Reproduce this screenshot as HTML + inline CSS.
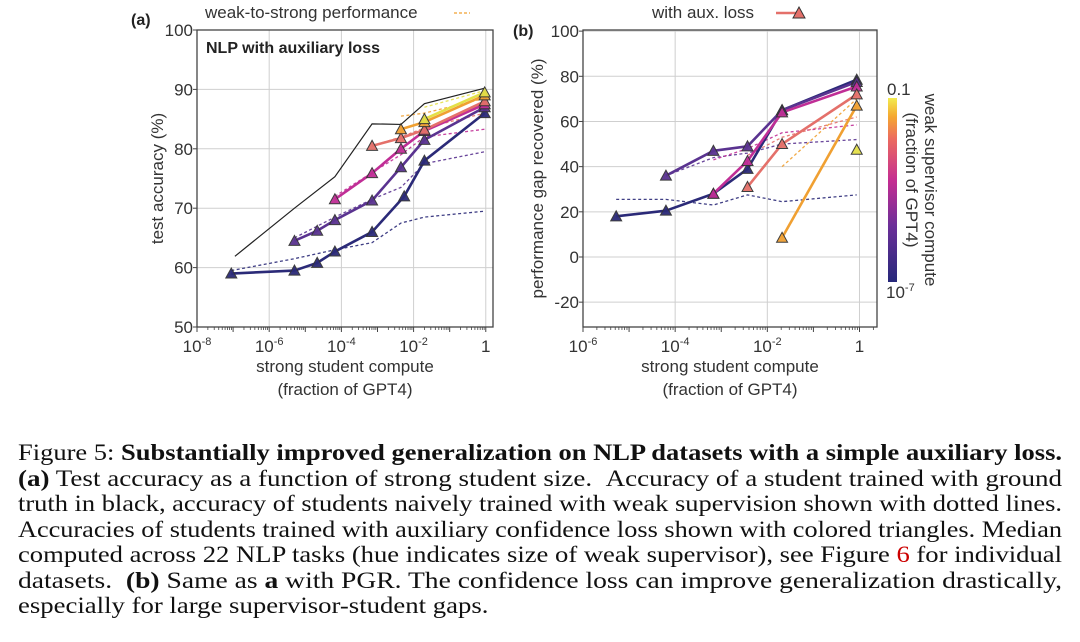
<!DOCTYPE html>
<html><head><meta charset="utf-8">
<style>
body{margin:0;background:#fff;width:1080px;height:642px;overflow:hidden;position:relative;font-family:"Liberation Sans",sans-serif}
.cap{position:absolute;left:18px;font-family:"Liberation Serif",serif;font-size:23px;color:#111;white-space:nowrap;line-height:25px;transform-origin:0 0}
</style></head><body>
<svg id="chart" width="1080" height="420" style="position:absolute;left:0;top:0" xmlns="http://www.w3.org/2000/svg"></svg>

<div class="cap" style="top:440px">Figure 5: <b>Substantially improved generalization on NLP datasets with a simple auxiliary loss.</b></div>
<div class="cap" style="top:465.5px"><b>(a)</b> Test accuracy as a function of strong student size. &nbsp;Accuracy of a student trained with ground</div>
<div class="cap" style="top:491px">truth in black, accuracy of students naively trained with weak supervision shown with dotted lines.</div>
<div class="cap" style="top:516.5px">Accuracies of students trained with auxiliary confidence loss shown with colored triangles. Median</div>
<div class="cap" style="top:542px">computed across 22 NLP tasks (hue indicates size of weak supervisor), see Figure <span style="color:#c00">6</span> for individual</div>
<div class="cap" style="top:567.5px">datasets. &nbsp;<b>(b)</b> Same as <b>a</b> with PGR. The confidence loss can improve generalization drastically,</div>
<div class="cap last" style="top:593px">especially for large supervisor-student gaps.</div>

<script>
// ---- data (log10 of compute fraction, values) ----
const seriesColors = ["#2b2a78","#5a3390","#c02e96","#e4706a","#f0a032","#e4e048"];
const seriesNames = ["sup-1e-7","sup-1e-6","sup-1e-5","sup-1e-4","sup-1e-3","sup-1e-1"];
// Panel A
const aAuxX = [[-7.05,-5.3,-4.67,-4.18,-3.15,-2.26,-1.7,-0.03],[-5.3,-4.67,-4.18,-3.15,-2.35,-1.7,-0.03],[-4.18,-3.15,-2.35,-1.7,-0.03],[-3.15,-2.35,-1.7,-0.03],[-2.35,-1.7,-0.03],[-1.7,-0.03]];
const aAuxY = [[59,59.5,60.8,62.7,66,72,78,86],[64.5,66.2,68,71.3,76.9,81.5,87],[71.5,75.9,80,83,87.5],[80.5,81.8,83.2,88],[83.3,84.5,89],[85,89.5]];
const aWeakX = [[-7.05,-5.3,-4.18,-3.15,-2.35,-1.7,-0.03],[-5.3,-4.18,-3.15,-2.35,-1.7,-0.03],[-4.18,-3.15,-2.35,-1.7,-0.03],[-3.15,-2.35,-1.7,-0.03],[-2.35,-1.7,-0.03],[-1.7,-0.03]];
const aWeakY = [[59.5,61.5,63,64.2,67.5,68.5,69.5],[65,68.5,71.5,73.5,77.5,79.5],[72,76,79,82,83.3],[80.5,82,83.5,86],[85.5,86,88.5],[87,89.8]];
const aGtX = [-6.95,-5.3,-4.18,-3.15,-2.35,-1.7,-0.03];
const aGtY = [61.9,70,75.3,84.2,84.1,87.6,90.2];
const aYTicks = [50,60,70,80,90,100];
const aXTicks = [-8,-6,-4,-2,0];
// Panel B
const bAuxX = [[-5.28,-4.2,-3.17,-2.43,-1.68,-0.06],[-4.2,-3.17,-2.43,-1.68,-0.06],[-3.17,-2.43,-1.68,-0.06],[-2.43,-1.68,-0.06],[-1.68,-0.06],[-0.06]];
const bAuxY = [[18,20.5,28,39,65,78.5],[36,47,49,65,77.5],[28,42.5,64,75.5],[31,50,72],[8.5,67],[47.5]];
const bWeakX = [[-5.28,-4.2,-3.17,-2.43,-1.68,-0.06],[-4.2,-3.17,-2.43,-1.68,-0.06],[-3.17,-2.43,-1.68,-0.06],[-2.43,-1.68,-0.06],[-1.68,-0.06]];
const bWeakY = [[25.5,25.5,23,27.5,24.5,27.5],[36,44,46,50,52],[43,48,55,58.5],[45,53,62],[40,70]];
const bYTicks = [-20,0,20,40,60,80,100];
const bXTicks = [-6,-4,-2,0];

const svg = document.getElementById('chart');
const NS = "http://www.w3.org/2000/svg";
function mk(tag, attrs, parent){const e=document.createElementNS(NS,tag);for(const k in attrs)e.setAttribute(k,attrs[k]);(parent||svg).appendChild(e);return e;}
function txt(s, attrs){const e=mk('text',attrs);e.textContent=s;return e;}

function panel(p){
  const g = mk('g',{});
  
  
  const sx = v => p.x0 + (v - p.xmin)/(p.xmax-p.xmin)*(p.x1-p.x0);
  const sy = v => p.y1 - (v - p.ymin)/(p.ymax-p.ymin)*(p.y1-p.y0);
  p.yTicks.forEach(t=>{ if(t>p.ymin && t<p.ymax){const l=mk('line',{x1:p.x0,x2:p.x1,y1:sy(t),y2:sy(t),stroke:'#cfcfcf','stroke-width':1},g);
     }});
  p.xTicks.forEach(t=>{ if(t>p.xmin && t<p.xmax){const l=mk('line',{x1:sx(t),x2:sx(t),y1:p.y0,y2:p.y1,stroke:'#cfcfcf','stroke-width':1},g);
     }});
  p.weakX.forEach((xs,i)=>{
    const pts = xs.map((x,j)=>sx(x)+','+sy(p.weakY[i][j])).join(' ');
    const l = mk('polyline',{points:pts,fill:'none',stroke:seriesColors[i],'stroke-width':1.3,'stroke-dasharray':'3,2.5',opacity:0.9},g);
    
    
  });
  if(p.gtX){
    const pts = p.gtX.map((x,j)=>sx(x)+','+sy(p.gtY[j])).join(' ');
    const l = mk('polyline',{points:pts,fill:'none',stroke:'#222','stroke-width':1.2},g);
    
    
  }
  p.auxX.forEach((xs,i)=>{
    const pts = xs.map((x,j)=>sx(x)+','+sy(p.auxY[i][j])).join(' ');
    const l = mk('polyline',{points:pts,fill:'none',stroke:seriesColors[i],'stroke-width':2.6,'stroke-linejoin':'round'},g);
    
    
  });
  p.auxX.forEach((xs,i)=>{
    xs.forEach((x,j)=>{
      const cx=sx(x), cy=sy(p.auxY[i][j]);
      const t = mk('polygon',{points:`${cx-5.5},${cy+4.5} ${cx+5.5},${cy+4.5} ${cx},${cy-5.5}`,fill:seriesColors[i],stroke:'#333','stroke-width':1,opacity:0.95},g);
      
      
    });
  });
  const fr = mk('rect',{x:p.x0,y:p.y0,width:p.x1-p.x0,height:p.y1-p.y0,fill:'none',stroke:'#444','stroke-width':1.3},g);
   
  p.yTicks.forEach(t=>{
    mk('line',{x1:p.x0-4,x2:p.x0,y1:sy(t),y2:sy(t),stroke:'#444'},g);
    const e = txt(String(t),{x:p.x0-4,y:sy(t)+6,'font-size':17,'text-anchor':'end',fill:'#333'});
     
  });
  for(let d=Math.ceil(p.xmin); d<p.xmax; d++){
    mk('line',{x1:sx(d),x2:sx(d),y1:p.y1,y2:p.y1+5,stroke:'#444'},g);
    for(let m=2;m<10;m++){const v=d+Math.log10(m); if(v<p.xmax) mk('line',{x1:sx(v),x2:sx(v),y1:p.y1,y2:p.y1+3,stroke:'#444','stroke-width':0.8},g);}
  }
  p.xTicks.forEach(t=>{
    const e = txt('',{x:sx(t),y:p.y1+25,'font-size':17,'text-anchor':'middle',fill:'#333'});
    if(t===0){e.textContent='1';}
    else{ e.textContent='10'; const s=document.createElementNS(NS,'tspan'); s.setAttribute('dy','-7'); s.setAttribute('font-size','11'); s.textContent=String(t); e.appendChild(s);}
     
  });
  const cx=(p.x0+p.x1)/2;
  let e=txt('strong student compute',{x:cx,y:372,'font-size':17,'text-anchor':'middle',fill:'#333'});
   
  e=txt('(fraction of GPT4)',{x:cx,y:395,'font-size':17,'text-anchor':'middle',fill:'#333'});
   
  e=txt(p.ytitle,{x:0,y:0,'font-size':17,'text-anchor':'middle',fill:'#333',transform:`translate(${p.ytx},${(p.y0+p.y1)/2}) rotate(-90)`});
   
}

panel({name:'panel-a',x0:197,x1:493,y0:30,y1:327,xmin:-8,xmax:0.2,ymin:50,ymax:100,
  yTicks:aYTicks,xTicks:aXTicks,auxX:aAuxX,auxY:aAuxY,weakX:aWeakX,weakY:aWeakY,gtX:aGtX,gtY:aGtY,ytitle:'test accuracy (%)',ytx:163});
panel({name:'panel-b',x0:583,x1:877,y0:30,y1:327,xmin:-6,xmax:0.38,ymin:-31,ymax:100.5,
  yTicks:bYTicks,xTicks:bXTicks,auxX:bAuxX,auxY:bAuxY,weakX:bWeakX,weakY:bWeakY,ytitle:'performance gap recovered (%)',ytx:543});

let e;
e=txt('(a)',{x:131,y:25,'font-size':16,'font-weight':'bold',fill:'#222'});  
e=txt('(b)',{x:513,y:36,'font-size':16,'font-weight':'bold',fill:'#222'});  
e=txt('NLP with auxiliary loss',{x:206,y:53,'font-size':16,'font-weight':'bold',fill:'#222'});  
e=txt('weak-to-strong performance',{x:205,y:18,'font-size':17,fill:'#333'});  
e=mk('line',{x1:454,x2:470,y1:13,y2:13,stroke:'#f0a032','stroke-width':1.3,'stroke-dasharray':'3,2'});  
e=txt('with aux. loss',{x:652,y:18,'font-size':17,fill:'#333'});  
e=mk('line',{x1:776,x2:800,y1:13,y2:13,stroke:'#e4706a','stroke-width':2.5});  
e=mk('polygon',{points:'793,18 805,18 799,7',fill:'#e4706a',stroke:'#333','stroke-width':1});  

const defs=mk('defs',{});
const lg=mk('linearGradient',{id:'cb',x1:0,y1:1,x2:0,y2:0},defs);
[["0","#26287a"],["0.3","#6a2f98"],["0.55","#c42d92"],["0.78","#ec6b5e"],["0.9","#f5a830"],["1","#f2ec50"]].forEach(s=>mk('stop',{offset:s[0],'stop-color':s[1]},lg));
e=mk('rect',{x:888,y:98,width:9,height:184,fill:'url(#cb)'});  
e=txt('0.1',{x:887,y:95,'font-size':17,fill:'#333'});  
e=txt('10',{x:886,y:298,'font-size':17,fill:'#333'});  
{const s=document.createElementNS(NS,'tspan'); s.setAttribute('dy','-7'); s.setAttribute('font-size','11'); s.textContent='-7'; e.appendChild(s);}
e=txt('weak supervisor compute',{x:0,y:0,'font-size':17,'text-anchor':'middle',fill:'#333',transform:'translate(925,190) rotate(90)'});  
e=txt('(fraction of GPT4)',{x:0,y:0,'font-size':17,'text-anchor':'middle',fill:'#333',transform:'translate(906,180) rotate(90)'});  

// caption fitting: scale each justified line horizontally to 1044px
const caps=[...document.querySelectorAll('.cap')];
let sum=0,n=0;
caps.forEach(c=>{ if(!c.classList.contains('last')){const w=c.getBoundingClientRect().width; const s=1044/w; sum+=s; n++; c.style.transform='scaleX('+s+')';}});
caps.forEach(c=>{ if(c.classList.contains('last')){c.style.transform='scaleX('+(sum/n)+')';}});
</script>
</body></html>
